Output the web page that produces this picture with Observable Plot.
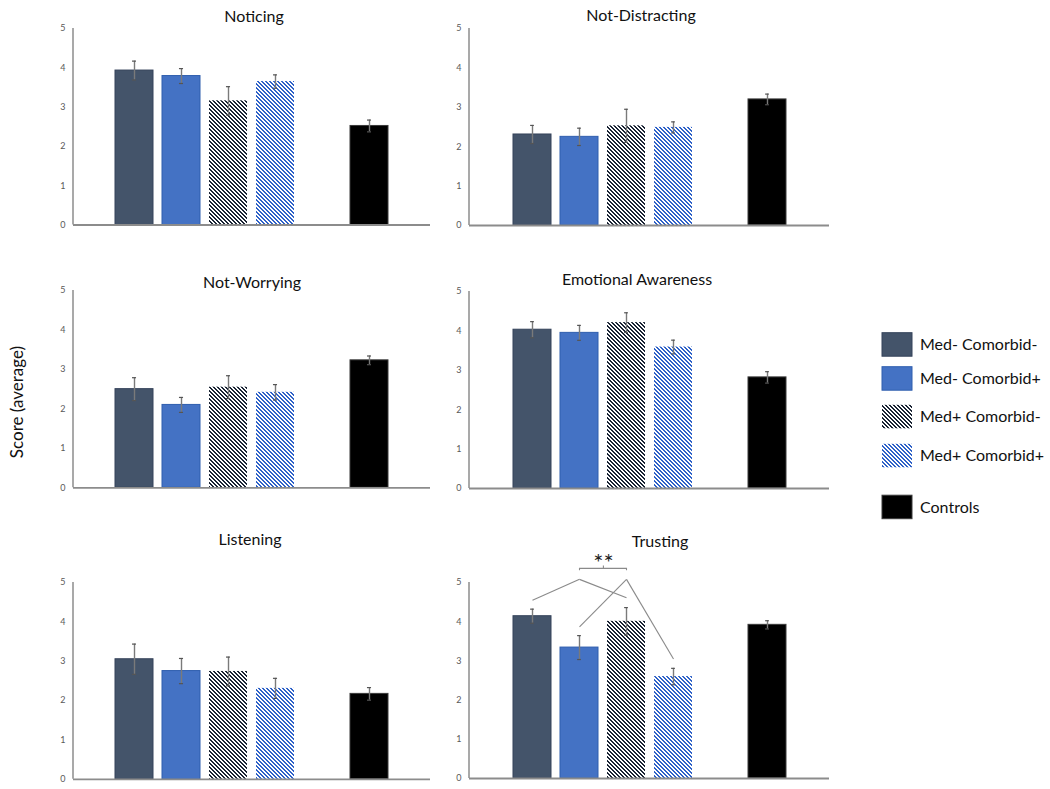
<!DOCTYPE html>
<html><head><meta charset="utf-8">
<script src="https://cdn.jsdelivr.net/npm/d3@7"></script>
<script src="https://cdn.jsdelivr.net/npm/@observablehq/plot@0.6"></script>
<style>
body{margin:0;background:#fff;}
#wrap{position:relative;width:1050px;height:789px;overflow:hidden;background:#fff;font-family:Lato,"Open Sans",sans-serif;}
.panel{position:absolute;}
.panel svg{overflow:visible;}
#overlay{position:absolute;left:0;top:0;pointer-events:none;}
</style></head><body>
<svg width="0" height="0" style="position:absolute">
  <defs>
    <pattern id="hatchDark" patternUnits="userSpaceOnUse" x="0" y="0" width="4" height="4" shape-rendering="crispEdges">
      <rect x="0" y="0" width="4" height="4" fill="#ffffff"></rect>
      <rect x="0" y="0" width="2" height="1" fill="#1a2434"></rect>
      <rect x="1" y="1" width="2" height="1" fill="#1a2434"></rect>
      <rect x="2" y="2" width="2" height="1" fill="#1a2434"></rect>
      <rect x="3" y="3" width="1" height="1" fill="#1a2434"></rect>
      <rect x="0" y="3" width="1" height="1" fill="#1a2434"></rect>
    </pattern>
    <pattern id="hatchBlue" patternUnits="userSpaceOnUse" x="0" y="0" width="4" height="4" shape-rendering="crispEdges">
      <rect x="0" y="0" width="4" height="4" fill="#ffffff"></rect>
      <rect x="0" y="0" width="2" height="1" fill="#2f62c8"></rect>
      <rect x="1" y="1" width="2" height="1" fill="#2f62c8"></rect>
      <rect x="2" y="2" width="2" height="1" fill="#2f62c8"></rect>
      <rect x="3" y="3" width="1" height="1" fill="#2f62c8"></rect>
      <rect x="0" y="3" width="1" height="1" fill="#2f62c8"></rect>
    </pattern>
  </defs>
</svg>
<div id="wrap"></div>
<script>
// ---------- data ----------
const groups = ["Med- Comorbid-", "Med- Comorbid+", "Med+ Comorbid-", "Med+ Comorbid+", "Controls"];
const slots = ["Med- Comorbid-", "Med- Comorbid+", "Med+ Comorbid-", "Med+ Comorbid+", "", "Controls"];
const panelNames = ["Noticing", "Not-Distracting", "Not-Worrying", "Emotional Awareness", "Listening", "Trusting"];
const yTicks = [0, 1, 2, 3, 4, 5];

const noticingMean = [3.93, 3.79, 3.16, 3.65, 2.52];
const noticingSem = [0.24, 0.19, 0.36, 0.17, 0.15];
const notDistractingMean = [2.31, 2.25, 2.53, 2.49, 3.20];
const notDistractingSem = [0.23, 0.22, 0.42, 0.14, 0.135];
const notWorryingMean = [2.50, 2.10, 2.55, 2.42, 3.23];
const notWorryingSem = [0.29, 0.19, 0.29, 0.195, 0.11];
const emotionalMean = [4.03, 3.95, 4.21, 3.59, 2.82];
const emotionalSem = [0.205, 0.19, 0.25, 0.175, 0.145];
const listeningMean = [3.05, 2.75, 2.74, 2.31, 2.17];
const listeningSem = [0.385, 0.32, 0.365, 0.255, 0.16];
const trustingMean = [4.14, 3.34, 4.01, 2.60, 3.92];
const trustingSem = [0.18, 0.305, 0.35, 0.21, 0.105];

// significance annotation (Trusting)
const sigFrom = ["Med- Comorbid+", "Med- Comorbid+", "Med+ Comorbid-", "Med+ Comorbid-"];
const sigTo = ["Med- Comorbid-", "Med+ Comorbid-", "Med- Comorbid+", "Med+ Comorbid+"];
const sigToY = [4.55, 4.61, 3.87, 3.05];
const sigApexY = 5.08;
const bracketFrom = "Med- Comorbid+";
const bracketTo = "Med+ Comorbid-";
const bracketY = 5.36, bracketEndY = 5.30, bracketMidY = 5.42, starsY = 5.48;
const starsLabel = "**";

const legendLabels = groups;
const yLabel = "Score (average)";

// ---------- styles ----------
const fills = {
  "Med- Comorbid-": "#44546a",
  "Med- Comorbid+": "#4472c4",
  "Med+ Comorbid-": "url(#hatchDark)",
  "Med+ Comorbid+": "url(#hatchBlue)",
  "Controls": "#000000"
};
const strokes = {
  "Med- Comorbid-": "#34425a",
  "Med- Comorbid+": "#2f5eae",
  "Med+ Comorbid-": "none",
  "Med+ Comorbid+": "none",
  "Controls": "#3a3a3a"
};

const means = [noticingMean, notDistractingMean, notWorryingMean, emotionalMean, listeningMean, trustingMean];
const sems = [noticingSem, notDistractingSem, notWorryingSem, emotionalSem, listeningSem, trustingSem];

// layout: svg left, width, marginLeft, marginRight, y of 5, y of 0, title position
const layout = [
  {left: 40, width: 400, ml: 33, mr: 10, y5: 28.3, y0: 224.8, tx: 254, ty: 21.5},
  {left: 436, width: 400, ml: 33, mr: 7, y5: 28.3, y0: 225.3, tx: 641, ty: 21},
  {left: 40, width: 400, ml: 33, mr: 10, y5: 289.5, y0: 486.8, tx: 252, ty: 288},
  {left: 436, width: 400, ml: 33, mr: 7, y5: 290.7, y0: 487.7, tx: 637, ty: 284.5},
  {left: 40, width: 400, ml: 33, mr: 10, y5: 581.5, y0: 778.3, tx: 250, ty: 544.5},
  {left: 436, width: 400, ml: 33, mr: 7, y5: 582.3, y0: 778.3, tx: 660, ty: 546.5}
];
const MT = 40, MB = 10;
const padInner = 0.2, padOuter = 0.865;

const wrap = document.getElementById("wrap");

panelNames.forEach((name, p) => {
  const L = layout[p];
  const rows = groups.map((g, i) => ({
    group: g, mean: means[p][i], lo: means[p][i] - sems[p][i], hi: means[p][i] + sems[p][i]
  }));
  const height = (L.y0 - L.y5) + MT + MB;
  const range = L.width - L.ml - L.mr;
  const step = range / (slots.length - padInner + 2 * padOuter);
  const bw = step * (1 - padInner);
  const capInset = (bw - 4) / 2;

  const yAxisLine = (index, scales, values, dims) => {
    const ln = document.createElementNS("http://www.w3.org/2000/svg", "line");
    ln.setAttribute("x1", dims.marginLeft);
    ln.setAttribute("x2", dims.marginLeft);
    ln.setAttribute("y1", dims.marginTop);
    ln.setAttribute("y2", dims.height - dims.marginBottom);
    ln.setAttribute("stroke", "#8c8c8c");
    ln.setAttribute("stroke-width", 1.5);
    return ln;
  };

  const marks = [
    Plot.axisY({ticks: yTicks, tickSize: 0, tickPadding: 8, fontSize: 9, fill: "#595959", label: null, tickFormat: d => d}),
    Plot.barY(rows, {x: "group", y: "mean", fill: d => fills[d.group], stroke: d => strokes[d.group], strokeWidth: 1}),
    Plot.ruleY([0], {stroke: "#8c8c8c", strokeWidth: 1.8}),
    yAxisLine,
    Plot.ruleX(rows, {x: "group", y1: "lo", y2: "hi", stroke: "#7a7a7a", strokeWidth: 1.4}),
    Plot.tickY(rows, {x: "group", y: "hi", insetLeft: capInset, insetRight: capInset, stroke: "#555", strokeWidth: 1.2}),
    Plot.tickY(rows, {x: "group", y: "lo", insetLeft: capInset, insetRight: capInset, stroke: "#555", strokeWidth: 1.2})
  ];

  if (name === "Trusting") {
    const sig = sigFrom.map((f, i) => ({from: f, to: sigTo[i], toY: sigToY[i]}));
    marks.push(
      Plot.link(sig, {x1: "from", y1: () => sigApexY, x2: "to", y2: "toY", stroke: "#8a8a8a", strokeWidth: 1.1}),
      Plot.link([0], {x1: () => bracketFrom, x2: () => bracketTo, y1: () => bracketY, y2: () => bracketY, stroke: "#8a8a8a", strokeWidth: 1.1}),
      Plot.ruleX([bracketFrom, bracketTo], {x: d => d, y1: () => bracketEndY, y2: () => bracketY, stroke: "#8a8a8a", strokeWidth: 1.1}),
      Plot.ruleX([bracketFrom], {x: d => d, dx: step / 2, y1: () => bracketY, y2: () => bracketMidY, stroke: "#8a8a8a", strokeWidth: 1.1}),
      Plot.text([starsLabel], {x: () => bracketFrom, y: () => starsY, dx: step / 2, text: d => d, fontSize: 24, fill: "#222", fontFamily: "Lato", letterSpacing: 2})
    );
  }

  const chart = Plot.plot({
    width: L.width,
    height,
    marginLeft: L.ml,
    marginRight: L.mr,
    marginTop: MT,
    marginBottom: MB,
    style: {background: "transparent", overflow: "visible", fontFamily: "Lato, 'Open Sans', sans-serif"},
    x: {domain: slots, paddingInner: padInner, paddingOuter: padOuter, axis: null},
    y: {domain: [0, 5], axis: null},
    color: {type: "identity"},
    marks
  });
  const div = document.createElement("div");
  div.className = "panel";
  div.style.left = L.left + "px";
  div.style.top = (L.y5 - MT) + "px";
  div.appendChild(chart);
  wrap.appendChild(div);
});

// ---------- overlay: titles, legend, y label ----------
const ov = d3.create("svg").attr("id", "overlay").attr("width", 1050).attr("height", 789)
  .style("font-family", "Lato, 'Open Sans', sans-serif");

ov.selectAll("text.title").data(panelNames).join("text")
  .attr("class", "title")
  .attr("x", (d, i) => layout[i].tx)
  .attr("y", (d, i) => layout[i].ty)
  .attr("text-anchor", "middle")
  .attr("font-size", 16)
  .attr("fill", "#111")
  .text(d => d);

ov.append("text")
  .attr("transform", "translate(23,402) rotate(-90)")
  .attr("text-anchor", "middle")
  .attr("font-size", 17)
  .attr("fill", "#111")
  .text(yLabel);

const legendPos = [
  {y: 332.7, ty: 349.5},
  {y: 366.7, ty: 383.5},
  {y: 404.8, ty: 421.5},
  {y: 443.8, ty: 460.5},
  {y: 495.2, ty: 512.7}
];
const lg = ov.append("g");
legendLabels.forEach((g, i) => {
  lg.append("rect").attr("x", 882).attr("y", legendPos[i].y).attr("width", 30).attr("height", 23.5)
    .attr("fill", fills[g]).attr("stroke", strokes[g] === "none" ? null : strokes[g]).attr("stroke-width", 1);
  lg.append("text").attr("x", 920).attr("y", legendPos[i].ty).attr("font-size", 16).attr("fill", "#111").text(g);
});

wrap.appendChild(ov.node());
</script>
</body></html>
